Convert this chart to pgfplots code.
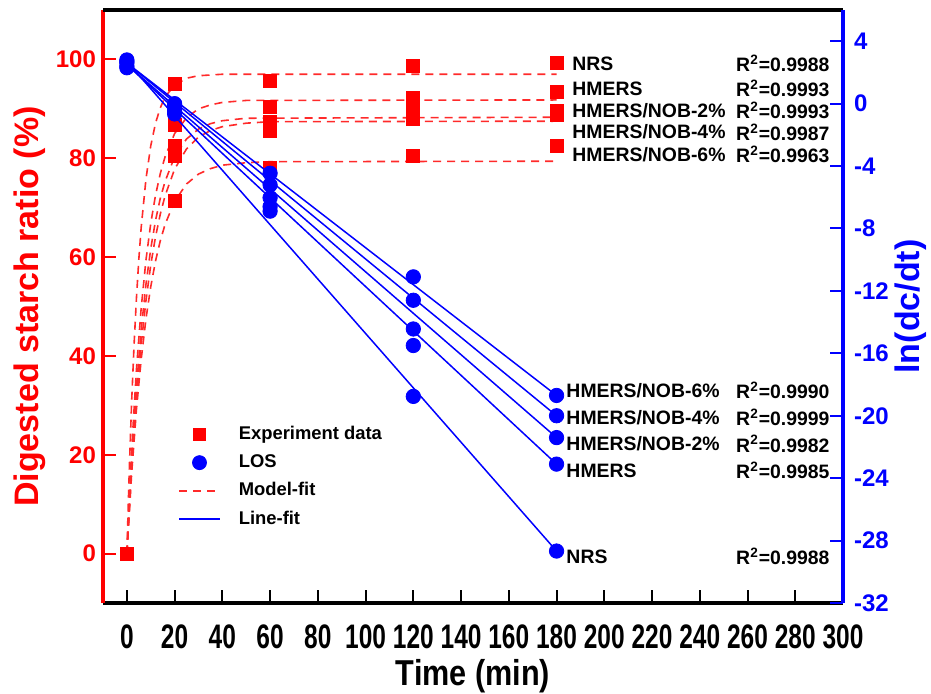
\documentclass[border=0pt]{standalone}
\usepackage{pgfplots}
\pgfplotsset{compat=1.18}
\usepackage{fontspec}
\setmainfont{Liberation Sans}
\newfontfamily\narrowfont[FakeStretch=0.72]{Liberation Sans}
\newfontfamily\titlefont[FakeStretch=0.85]{Liberation Sans}
\definecolor{expred}{HTML}{FF0000}
\definecolor{fitred}{HTML}{FF2A2A}
\definecolor{losblue}{HTML}{0000FF}
\newcommand\rsq[1]{R\textsuperscript{2}=#1}
\tikzset{
  lab/.style={anchor=west, inner sep=0pt, font=\bfseries\fontsize{9.7}{11}\selectfont},
  rlab/.style={anchor=east, inner sep=0pt, font=\bfseries\fontsize{9.7}{11}\selectfont},
}

\begin{document}
\begin{tikzpicture}
% ---------- left axis: digestion kinetics ----------
\begin{axis}[
  name=left, scale only axis, width=370pt, height=296.5pt,
  xmin=-10, xmax=300, ymin=-10, ymax=110,
  axis x line*=bottom, axis y line*=left,
  xtick={0,20,...,300}, ytick={0,20,...,100},
  tick align=inside, major tick length=6.5pt,
  x axis line style={black, line width=1.6pt},
  y axis line style={expred, line width=1.6pt},
  xtick style={black, line width=1pt},
  ytick style={expred, line width=1pt},
  /pgf/number format/assume math mode=true,
  xticklabel style={font=\narrowfont\bfseries\fontsize{17}{17}\selectfont, yshift=-7.5pt},
  yticklabel style={font=\bfseries\fontsize{12}{12}\selectfont, text=expred},
  xlabel={Time (min)},
  xlabel style={font=\titlefont\bfseries\fontsize{18}{18}\selectfont, yshift=2pt},
  ylabel={Digested starch ratio (\%)},
  ylabel style={font=\bfseries\fontsize{17}{17}\selectfont, text=expred, yshift=-2pt},
  clip=false,
]
% model fits
\addplot[fitred, dashed, dash pattern=on 4pt off 3pt, line width=0.8pt] coordinates {
  (0,0) (1,16.8) (2,30.7) (3,42.1) (4,51.6) (5,59.5) (6,66.0) (8,75.8) (10,82.5)
  (12,87.1) (14,90.2) (16,92.4) (20,94.8) (25,96.2) (30,96.7) (40,97.0) (180,97.0)};
\addplot[fitred, dashed, dash pattern=on 4pt off 3pt, line width=0.8pt] coordinates {
  (0,0) (2,21.0) (4,37.2) (6,49.7) (8,59.4) (10,66.8) (12,72.5) (14,76.9) (16,80.3)
  (20,85.0) (25,88.2) (30,90.0) (35,90.8) (40,91.3) (50,91.7) (180,91.8)};
\addplot[fitred, dashed, dash pattern=on 4pt off 3pt, line width=0.8pt] coordinates {
  (0,0) (2,18.8) (4,33.6) (6,45.3) (8,54.5) (10,61.7) (12,67.4) (14,71.9) (16,75.3)
  (20,80.3) (25,83.9) (30,85.9) (35,87.0) (40,87.6) (50,88.1) (180,88.3)};
\addplot[fitred, dashed, dash pattern=on 4pt off 3pt, line width=0.8pt] coordinates {
  (0,0) (2,17.3) (4,31.1) (6,42.3) (8,51.2) (10,58.4) (12,64.1) (14,68.7) (16,72.4)
  (20,77.8) (25,81.9) (30,84.3) (35,85.6) (40,86.4) (50,87.1) (60,87.4) (180,87.5)};
\addplot[fitred, dashed, dash pattern=on 4pt off 3pt, line width=0.8pt] coordinates {
  (0,0) (2,16.2) (4,29.1) (6,39.3) (8,47.5) (10,54.0) (12,59.2) (14,63.3) (16,66.6)
  (20,71.3) (25,74.8) (30,76.8) (35,77.9) (40,78.6) (50,79.1) (60,79.3) (180,79.4)};
% experiment data
\addplot[only marks, mark=square*, mark size=3.25pt, expred] coordinates {
  (0,0) (20,95.0) (60,95.6) (120,98.7) (180,99.2)};
\addplot[only marks, mark=square*, mark size=3.25pt, expred] coordinates {
  (0,0) (20,86.7) (60,90.4) (120,92.3) (180,93.5)};
\addplot[only marks, mark=square*, mark size=3.25pt, expred] coordinates {
  (0,0) (20,82.6) (60,87.3) (120,89.4) (180,89.6)};
\addplot[only marks, mark=square*, mark size=3.25pt, expred] coordinates {
  (0,0) (20,80.4) (60,85.5) (120,87.9) (180,88.8)};
\addplot[only marks, mark=square*, mark size=3.25pt, expred] coordinates {
  (0,0) (20,71.3) (60,78.0) (120,80.4) (180,82.6)};
% labels, top group
\node[lab] at (axis cs:186.5,99.15) {NRS};
\node[lab] at (axis cs:186.5,94.1) {HMERS};
\node[lab] at (axis cs:186.5,89.7) {HMERS/NOB-2\%};
\node[lab] at (axis cs:186.5,85.3) {HMERS/NOB-4\%};
\node[lab] at (axis cs:186.5,80.8) {HMERS/NOB-6\%};
\node[rlab] at (axis cs:294.5,99.15) {\rsq{0.9988}};
\node[rlab] at (axis cs:294.5,94.1) {\rsq{0.9993}};
\node[rlab] at (axis cs:294.5,89.7) {\rsq{0.9993}};
\node[rlab] at (axis cs:294.5,85.3) {\rsq{0.9987}};
\node[rlab] at (axis cs:294.5,80.8) {\rsq{0.9963}};
% labels, bottom group
\node[lab] at (axis cs:184,33.0) {HMERS/NOB-6\%};
\node[lab] at (axis cs:184,27.6) {HMERS/NOB-4\%};
\node[lab] at (axis cs:184,22.2) {HMERS/NOB-2\%};
\node[lab] at (axis cs:184,16.8) {HMERS};
\node[lab] at (axis cs:184,-0.6) {NRS};
\node[rlab] at (axis cs:294.5,33.0) {\rsq{0.9990}};
\node[rlab] at (axis cs:294.5,27.6) {\rsq{0.9999}};
\node[rlab] at (axis cs:294.5,22.2) {\rsq{0.9982}};
\node[rlab] at (axis cs:294.5,16.8) {\rsq{0.9985}};
\node[rlab] at (axis cs:294.5,-0.6) {\rsq{0.9988}};
\end{axis}

% ---------- right axis: ln(dc/dt) ----------
\begin{axis}[
  scale only axis, width=370pt, height=296.5pt,
  xmin=-10, xmax=300, ymin=-32, ymax=6,
  axis x line*=top, axis y line*=right,
  xtick=\empty, ytick={-32,-28,...,4},
  tick align=inside, major tick length=6.5pt,
  x axis line style={black, line width=1.6pt},
  y axis line style={losblue, line width=1.6pt},
  ytick style={losblue, line width=1pt},
  /pgf/number format/assume math mode=true,
  yticklabel style={font=\bfseries\fontsize{12}{12}\selectfont, text=losblue, xshift=2pt},
  ylabel={ln(dc/dt)},
  ylabel style={font=\bfseries\fontsize{17}{17}\selectfont, text=losblue, yshift=4pt},
  clip=false,
  legend style={at={(0.093,0.312)}, anchor=north west, draw=none, fill=none,
    font=\bfseries\fontsize{9.2}{11}\selectfont, row sep=2pt,
    /tikz/every odd column/.append style={column sep=7pt}},
  legend image code/.code={\draw[mark repeat=2, mark phase=2, #1]
    plot coordinates {(0cm,0cm) (0.36cm,0cm) (0.72cm,0cm)};},
  legend cell align=left,
]
\addlegendimage{only marks, mark=square*, mark size=3pt, expred}
\addlegendentry{Experiment data}
\addlegendimage{only marks, mark=*, mark size=3.5pt, losblue}
\addlegendentry{LOS}
\addlegendimage{fitred, dashed, dash pattern=on 4pt off 3pt, line width=0.8pt}
\addlegendentry{Model-fit}
\addlegendimage{losblue, line width=0.8pt}
\addlegendentry{Line-fit}
% line fits
\addplot[losblue, line width=0.75pt, forget plot] coordinates {(0,2.7) (180,-28.67)};
\addplot[losblue, line width=0.75pt, forget plot] coordinates {(0,2.5) (180,-23.1)};
\addplot[losblue, line width=0.75pt, forget plot] coordinates {(0,2.5) (180,-21.4)};
\addplot[losblue, line width=0.75pt, forget plot] coordinates {(0,2.6) (180,-20.0)};
\addplot[losblue, line width=0.75pt, forget plot] coordinates {(0,2.6) (180,-18.7)};
% LOS data
\addplot[only marks, mark=*, mark size=3.6pt, losblue, forget plot] coordinates {
  (0,2.3) (20,-0.66) (60,-6.89) (120,-18.76) (180,-28.67)};
\addplot[only marks, mark=*, mark size=3.6pt, losblue, forget plot] coordinates {
  (0,2.4) (20,-0.5) (60,-6.6) (120,-15.5) (180,-23.1)};
\addplot[only marks, mark=*, mark size=3.6pt, losblue, forget plot] coordinates {
  (0,2.6) (20,-0.3) (60,-6.03) (120,-14.44) (180,-21.4)};
\addplot[only marks, mark=*, mark size=3.6pt, losblue, forget plot] coordinates {
  (0,2.7) (20,-0.1) (60,-5.21) (120,-12.6) (180,-20.0)};
\addplot[only marks, mark=*, mark size=3.6pt, losblue, forget plot] coordinates {
  (0,2.8) (20,0.0) (60,-4.46) (120,-11.1) (180,-18.7)};
\end{axis}
\pgfresetboundingbox
\path[use as bounding box] (-51.5pt,-45pt) rectangle (414pt,301.5pt);
\end{tikzpicture}
\end{document}
